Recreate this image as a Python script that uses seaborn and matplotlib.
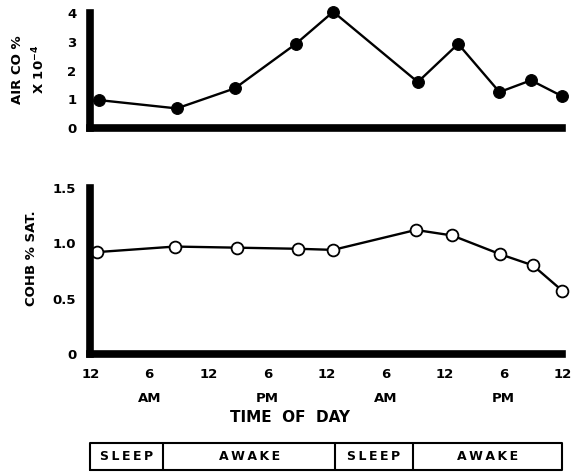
# Air CO and COHb over two days, with the sleep/awake schedule under the axis

import matplotlib.pyplot as plt
import seaborn as sns

# sampling times, hours from midnight of day one
air_hours = [0.9, 8.8, 14.7, 20.9, 24.7, 33.3, 37.4, 41.6, 44.8, 48.0]
air_co = [0.97, 0.68, 1.38, 2.93, 4.05, 1.60, 2.93, 1.25, 1.66, 1.10]
cohb_hours = [0.7, 8.6, 14.9, 21.1, 24.7, 33.1, 36.8, 41.7, 45.0, 48.0]
cohb = [0.92, 0.97, 0.96, 0.95, 0.94, 1.12, 1.07, 0.90, 0.80, 0.57]

tick_hours = [0, 6, 12, 18, 24, 30, 36, 42, 48]
tick_labels = ["12", "6", "12", "6", "12", "6", "12", "6", "12"]
ampm_hours = [6, 18, 30, 42]
ampm_labels = ["AM", "PM", "AM", "PM"]

states = ["SLEEP", "AWAKE", "SLEEP", "AWAKE"]
state_bounds = [0, 7.4, 24.9, 32.8, 48]

sns.set_style("white")
plt.rcParams["font.family"] = ["DejaVu Sans"]
plt.rcParams["font.weight"] = "bold"
plt.rcParams["text.color"] = "black"

fig = plt.figure(figsize=(5.71, 4.72), dpi=100)
ax_top = fig.add_axes([0.158, 0.729, 0.827, 0.243])
ax_bot = fig.add_axes([0.158, 0.250, 0.827, 0.352])
ax_tab = fig.add_axes([0.158, 0.004, 0.827, 0.057])

# top panel: air CO
sns.lineplot(x=air_hours, y=air_co, ax=ax_top, color="black", lw=1.7,
             marker="o", markersize=8.5, markerfacecolor="black",
             markeredgecolor="black", clip_on=False)
ax_top.set_ylim(0, 4)
ax_top.set_yticks([0, 1, 2, 3, 4])
ax_top.set_xticks([])

# bottom panel: COHb
sns.lineplot(x=cohb_hours, y=cohb, ax=ax_bot, color="black", lw=1.7,
             marker="o", markersize=8.5, markerfacecolor="white",
             markeredgecolor="black", markeredgewidth=1.3, clip_on=False)
ax_bot.set_ylim(0, 1.5)
ax_bot.set_yticks([0, 0.5, 1.0, 1.5])
ax_bot.set_yticklabels(["0", "0.5", "1.0", "1.5"])
ax_bot.set_xticks(tick_hours)
ax_bot.set_xticklabels(tick_labels)

for ax in (ax_top, ax_bot):
    ax.set_xlim(0, 48)
    ax.set_xlabel("")
    ax.set_ylabel("")
    sns.despine(ax=ax)
    for side in ("left", "bottom"):
        ax.spines[side].set_linewidth(5.5)
        ax.spines[side].set_color("black")
    ax.tick_params(direction="in", length=3, width=1.5, labelsize=9.5,
                   pad=10, colors="black")

xt = ax_bot.get_xaxis_transform()
for h, lab in zip(ampm_hours, ampm_labels):
    ax_bot.text(h, -0.27, lab, transform=xt, ha="center", va="center",
                fontsize=9.5, fontweight="bold", color="black")
ax_bot.text(20.3, -0.385, "TIME  OF  DAY", transform=xt, ha="center",
            va="center", fontsize=11, fontweight="bold", color="black")

fig.text(0.051, 0.852, "AIR CO %\nX 10$^{-4}$", rotation=90, ha="center",
         va="center", fontsize=9.5, fontweight="bold", linespacing=1.5,
         color="black")
fig.text(0.056, 0.453, "COHB % SAT.", rotation=90, ha="center",
         va="center", fontsize=9.5, fontweight="bold", color="black")

# schedule strip
ax_tab.set_xlim(0, 48)
ax_tab.set_ylim(0, 1)
ax_tab.axis("off")
left, right = state_bounds[0], state_bounds[-1]
ax_tab.plot([left, right, right, left, left], [0, 0, 1, 1, 0],
            color="black", lw=1.5, clip_on=False)
for b in state_bounds[1:-1]:
    ax_tab.plot([b, b], [0, 1], color="black", lw=1.5)
for s, a, b in zip(states, state_bounds[:-1], state_bounds[1:]):
    ax_tab.text((a + b) / 2, 0.5, "\u2009".join(s), ha="center", va="center",
                fontsize=9, fontweight="bold", color="black")

fig.savefig("out.png", dpi=100)
